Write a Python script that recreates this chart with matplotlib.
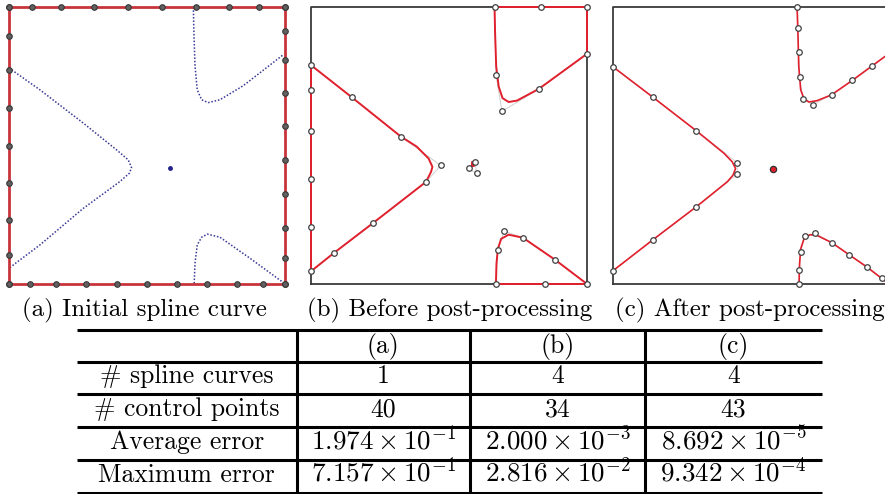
import matplotlib
matplotlib.use('Agg')
import matplotlib.pyplot as plt

plt.rcParams['font.family'] = 'serif'
plt.rcParams['font.serif'] = ['cmr10']
plt.rcParams['mathtext.fontset'] = 'cm'
plt.rcParams['axes.formatter.use_mathtext'] = True

# ---- domain box (unit square) ----
box_x = [0, 1, 1, 0, 0]
box_y = [0, 0, 1, 1, 0]

# ---- (a) initial spline: control points on the boundary ----
a_top_x = [0, 0.084, 0.19, 0.309, 0.43, 0.553, 0.677, 0.798, 0.907, 1.0]
a_right_y = [1, 0.912, 0.807, 0.69, 0.57, 0.447, 0.326, 0.202, 0.094, 0]
a_bottom_x = [0, 0.076, 0.17, 0.28, 0.39, 0.5, 0.607, 0.718, 0.826, 0.922, 1]
a_left_y = [1, 0.894, 0.771, 0.637, 0.5, 0.363, 0.23, 0.105, 0]

# target level set (blue dotted)
lvl_left_x = [0, 0.112, 0.269, 0.390, 0.432, 0.444, 0.436, 0.402, 0.269, 0.112, 0]
lvl_left_y = [0.780, 0.701, 0.581, 0.484, 0.448, 0.420, 0.400, 0.370, 0.273, 0.141, 0.057]
lvl_tr_x = [0.668, 0.670, 0.674, 0.682, 0.698, 0.722, 0.764, 0.849, 0.994]
lvl_tr_y = [1.0, 0.906, 0.786, 0.701, 0.665, 0.655, 0.665, 0.716, 0.828]
lvl_br_x = [0.671, 0.674, 0.682, 0.698, 0.719, 0.764, 0.873, 0.994]
lvl_br_y = [0.002, 0.075, 0.141, 0.169, 0.180, 0.169, 0.093, 0.005]
lvl_dot = (0.583, 0.417)

# ---- (b) before post-processing ----
b1_curve_x = [0, 0.148, 0.326, 0.383, 0.426, 0.440, 0.435, 0.417, 0.226, 0.083, 0, 0]
b1_curve_y = [0.790, 0.674, 0.532, 0.496, 0.453, 0.423, 0.405, 0.369, 0.221, 0.112, 0.046, 0.790]
b1_ctrl_x = [0, 0.148, 0.326, 0.470, 0.417, 0.226, 0.083, 0, 0, 0, 0, 0]
b1_ctrl_y = [0.790, 0.674, 0.532, 0.428, 0.369, 0.221, 0.112, 0.046, 0.206, 0.378, 0.553, 0.699]

b2_curve_x = [0.665, 0.667, 0.671, 0.680, 0.694, 0.716, 0.746, 0.825, 1.0, 1.0, 0.665]
b2_curve_y = [1.0, 0.907, 0.786, 0.713, 0.671, 0.657, 0.662, 0.704, 0.831, 1.0, 1.0]
b2_ctrl_x = [0.665, 0.670, 0.692, 0.825, 1.0, 1.0, 0.833]
b2_ctrl_y = [1.0, 0.756, 0.623, 0.704, 0.831, 1.0, 1.0]

b3_curve_x = [0.670, 0.672, 0.677, 0.689, 0.716, 0.768, 0.885, 1.0, 0.670]
b3_curve_y = [0.0, 0.073, 0.127, 0.163, 0.178, 0.167, 0.087, 0.0, 0.0]
b3_ctrl_x = [0.670, 0.676, 0.700, 0.768, 0.885, 1.0, 0.849]
b3_ctrl_y = [0.0, 0.121, 0.191, 0.167, 0.087, 0.0, 0.0]

b4_curve_x = [0.584, 0.590, 0.590, 0.584, 0.584]
b4_curve_y = [0.425, 0.425, 0.442, 0.442, 0.425]
b4_ctrl_x = [0.594, 0.571, 0.600]
b4_ctrl_y = [0.442, 0.417, 0.399]

# ---- (c) after post-processing ----
c1_curve_x = [0, 0.145, 0.302, 0.402, 0.432, 0.444, 0.435, 0.414, 0.302, 0.145, 0]
c1_curve_y = [0.784, 0.674, 0.553, 0.472, 0.441, 0.417, 0.393, 0.369, 0.279, 0.160, 0.048]
c1_ctrl_x = [0, 0.145, 0.302, 0.450, 0.450, 0.302, 0.145, 0]
c1_ctrl_y = [0.784, 0.674, 0.553, 0.438, 0.396, 0.279, 0.160, 0.048]

c2_curve_x = [0.667, 0.670, 0.673, 0.680, 0.692, 0.710, 0.740, 0.792, 0.867, 0.937, 1.0]
c2_curve_y = [1.0, 0.907, 0.786, 0.701, 0.669, 0.657, 0.662, 0.683, 0.735, 0.786, 0.832]
c2_ctrl_x = [0.667, 0.670, 0.673, 0.676, 0.688, 0.723, 0.792, 0.867, 0.937, 1.0]
c2_ctrl_y = [1.0, 0.925, 0.837, 0.747, 0.667, 0.647, 0.683, 0.735, 0.786, 0.832]

c3_curve_x = [0.674, 0.676, 0.680, 0.692, 0.714, 0.740, 0.793, 0.855, 0.919, 1.0]
c3_curve_y = [0.0, 0.073, 0.127, 0.163, 0.178, 0.175, 0.149, 0.106, 0.062, 0.0]
c3_ctrl_x = [0.674, 0.675, 0.680, 0.694, 0.732, 0.793, 0.855, 0.919, 0.973, 1.0]
c3_ctrl_y = [0.0, 0.051, 0.115, 0.174, 0.183, 0.149, 0.106, 0.062, 0.021, 0.0]

c_dot = (0.581, 0.416)

# ---- captions and table ----
captions = ['(a) Initial spline curve', '(b) Before post-processing', '(c) After post-processing']
col_heads = ['(a)', '(b)', '(c)']
row_names = ['# spline curves', '# control points', 'Average error', 'Maximum error']
n_curves = ['1', '4', '4']
n_ctrl = ['40', '34', '43']
avg_err = [r'$1.974\times10^{-1}$', r'$2.000\times10^{-3}$', r'$8.692\times10^{-5}$']
max_err = [r'$7.157\times10^{-1}$', r'$2.816\times10^{-2}$', r'$9.342\times10^{-4}$']

RED = '#e0202c'
BOXC = '#3a3a3a'
BLUE = '#22228a'

W, H = 885, 494
fig = plt.figure(figsize=(8.85, 4.94), dpi=100)


def panel(left_px):
    ax = fig.add_axes([left_px / W, 1 - 284 / H, 276 / W, 277 / H])
    ax.set_xlim(0, 1)
    ax.set_ylim(0, 1)
    ax.axis('off')
    return ax


def ctrl(ax, xs, ys):
    ax.plot(xs, ys, 'o', ms=4, mfc='white', mec='#404040', mew=0.9,
            clip_on=False, zorder=5)


# (a)
ax = panel(9)
for xs, ys in [(lvl_left_x, lvl_left_y), (lvl_tr_x, lvl_tr_y), (lvl_br_x, lvl_br_y)]:
    ax.plot(xs, ys, ls=(0, (1, 1.2)), lw=1.1, color=BLUE, alpha=0.9, clip_on=False)
ax.plot(*lvl_dot, 'o', ms=2.5, color=BLUE)
ax.plot(box_x, box_y, color='#c8343c', lw=2.0, clip_on=False, zorder=3)
pts_x = a_top_x + [1] * len(a_right_y) + a_bottom_x + [0] * len(a_left_y)
pts_y = [1] * len(a_top_x) + a_right_y + [0] * len(a_bottom_x) + a_left_y
ax.plot(pts_x, pts_y, 'o', ms=4, mfc='#606060', mec='#383838', mew=0.8,
        clip_on=False, zorder=5)

# (b)
ax = panel(311)
ax.plot(box_x, box_y, color=BOXC, lw=1.3, clip_on=False, zorder=1)
for cx, cy, px, py in [(b1_curve_x, b1_curve_y, b1_ctrl_x, b1_ctrl_y),
                       (b2_curve_x, b2_curve_y, b2_ctrl_x, b2_ctrl_y),
                       (b3_curve_x, b3_curve_y, b3_ctrl_x, b3_ctrl_y),
                       (b4_curve_x, b4_curve_y, b4_ctrl_x, b4_ctrl_y)]:
    ax.plot(px + px[:1], py + py[:1], color='#c8c8c8', lw=0.6, clip_on=False, zorder=2)
    ax.plot(cx, cy, color=RED, lw=1.4, clip_on=False, zorder=3)
    ctrl(ax, px, py)

# (c)
ax = panel(613)
ax.plot(box_x, box_y, color=BOXC, lw=1.3, clip_on=False, zorder=1)
for cx, cy, px, py in [(c1_curve_x, c1_curve_y, c1_ctrl_x, c1_ctrl_y),
                       (c2_curve_x, c2_curve_y, c2_ctrl_x, c2_ctrl_y),
                       (c3_curve_x, c3_curve_y, c3_ctrl_x, c3_ctrl_y)]:
    ax.plot(px, py, color='#d0d0d0', lw=0.6, clip_on=False, zorder=2)
    ax.plot(cx, cy, color=RED, lw=1.2, clip_on=False, zorder=3)
    ctrl(ax, px, py)
ax.plot(*c_dot, 'o', ms=4.5, mfc=RED, mec='#303030', mew=0.9, zorder=5)

# captions
for cap, cx in zip(captions, [144, 450, 750]):
    fig.text(cx / W, 1 - 316 / H, cap, ha='center', va='baseline', fontsize=18)

# table as a figure-level axes in pixel coordinates
tab = fig.add_axes([0, 0, 1, 1])
tab.set_xlim(0, W)
tab.set_ylim(H, 0)
tab.axis('off')
line_y = [329.5, 361.7, 394, 427.3, 460, 492.5]
col_x = [77, 296.7, 470, 645, 822]
for y in line_y:
    tab.plot([col_x[0], col_x[-1]], [y, y], color='black', lw=2.2, solid_capstyle='butt')
for x in col_x[1:-1]:
    tab.plot([x, x], [line_y[0], line_y[-1]], color='black', lw=2.2, solid_capstyle='butt')

rows = [[''] + col_heads,
        [row_names[0]] + n_curves,
        [row_names[1]] + n_ctrl,
        [row_names[2]] + avg_err,
        [row_names[3]] + max_err]
for i, row in enumerate(rows):
    base = line_y[i + 1] - (9 if i == 0 else 11)
    for j, cell in enumerate(row):
        xc = (col_x[j] + col_x[j + 1]) / 2
        fs = 19.5 if cell.startswith('$') else 18.5
        tab.text(xc, base, cell, ha='center', va='baseline', fontsize=fs)

fig.savefig('out.png', dpi=100)
